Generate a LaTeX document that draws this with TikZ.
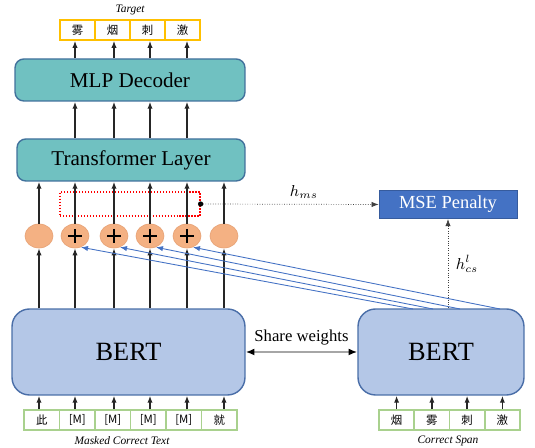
\documentclass[tikz,border=0pt]{standalone}
\usepackage{fontspec}
\setmainfont{Liberation Serif}
\newfontfamily\cjk{Noto Sans CJK SC}
\newfontfamily\sansf{Liberation Sans}
\usetikzlibrary{shapes.geometric,arrows.meta}
\definecolor{tealbox}{HTML}{70C1C1}
\definecolor{tealedge}{HTML}{41719C}
\definecolor{bertfill}{HTML}{B4C7E7}
\definecolor{bertedge}{HTML}{4A6EA8}
\definecolor{circfill}{HTML}{F4B183}
\definecolor{circedge}{HTML}{E8A478}
\definecolor{msefill}{HTML}{4472C4}
\definecolor{tgtedge}{HTML}{FFC000}
\definecolor{inedge}{HTML}{A9D18E}
\begin{document}
\begin{tikzpicture}[x=0.02cm, y=-0.02cm, >={Latex[length=4pt,width=3pt]},
    layer/.style={draw=tealedge, fill=tealbox, rounded corners=5pt, line width=0.8pt,
        minimum height=0.84cm, font=\fontsize{12}{12}\selectfont},
    bert/.style={draw=bertedge, fill=bertfill, rounded corners=0.35cm, line width=0.8pt,
        minimum height=1.72cm, font=\fontsize{15}{15}\selectfont},
    add/.style={ellipse, draw=circedge, fill=circfill, minimum width=0.56cm,
        minimum height=0.48cm, inner sep=0pt},
    tok/.style={draw, line width=0.9pt, minimum height=0.4cm, inner sep=0pt},
    caption/.style={font=\itshape\fontsize{6.5}{6.5}\selectfont},
    flow/.style={->, line width=0.75pt, black!85}]
    \useasboundingbox (0,0) rectangle (535,448);
    % decoder side
    \node[layer, minimum width=4.6cm] (mlp) at (130,80) {MLP Decoder};
    \node[layer, minimum width=4.56cm] (tfm) at (131,160) {Transformer Layer};
    \node[caption] (tgtlbl) at (130,10) {Target};
    \foreach \i/\x/\c in {1/77.5/雾,2/112.5/烟,3/147.5/刺,4/182.5/激}
        \node[tok, draw=tgtedge, minimum width=0.7cm, font=\cjk\fontsize{6.5}{6.5}\selectfont]
            (t\i) at (\x,30) {\c};
    % add nodes
    \foreach \i/\x in {1/39,2/75,3/114,4/150,5/187,6/224}
        \node[add] (c\i) at (\x,236) {};
    \foreach \i in {2,...,5}
        \draw[line width=0.8pt] (c\i.center) +(-7,0) -- +(7,0)
            (c\i.center) +(0,-7) -- +(0,7);
    \node[draw=red, densely dotted, line width=0.7pt, minimum width=2.8cm,
        minimum height=0.48cm] (rb) at (130,204) {};
    \node[fill=msefill, draw=msefill!80!black, text=white, minimum width=2.76cm,
        minimum height=0.5cm, font=\fontsize{10.5}{10.5}\selectfont] (mse) at (448,204.5) {MSE Penalty};
    % encoders
    \node[bert, minimum width=4.66cm] (bl) at (128.5,352) {BERT};
    \node[bert, minimum width=3.32cm] (br) at (441,352) {BERT};
    \foreach \i/\x/\c in {1/41.75/此,2/77.25/{[M]},3/112.75/{[M]},4/148.25/{[M]},5/183.75/{[M]},6/219.25/就}
        \node[tok, draw=inedge, minimum width=0.71cm, font=\cjk\fontsize{6.5}{6.5}\selectfont]
            (m\i) at (\x,420) {\c};
    \foreach \i/\x/\c in {1/396.6/烟,2/431.9/雾,3/467.1/刺,4/502.4/激}
        \node[tok, draw=inedge, minimum width=0.705cm, font=\cjk\fontsize{6.5}{6.5}\selectfont]
            (s\i) at (\x,420) {\c};
    \node[caption] (mlbl) at (122,441) {Masked Correct Text};
    \node[caption] (slbl) at (448,441) {Correct Span};
    % vertical flow
    \foreach \i [evaluate=\i as \j using int(\i+1)] in {1,...,4} {
        \draw[flow] (mlp.north -| c\j) -- (t\i.south -| c\j);
        \draw[flow] (tfm.north -| c\j) -- (mlp.south -| c\j);
    }
    \foreach \i in {1,...,6} {
        \draw[flow] (c\i.north) -- (tfm.south -| c\i);
        \draw[flow] (bl.north -| c\i) -- (c\i.south);
        \draw[flow] (m\i.north -| c\i) -- (bl.south -| c\i);
    }
    \foreach \i in {1,...,4}
        \draw[flow] (s\i.north) -- (br.south -| s\i);
    % span links
    \foreach \i/\e in {2/413,3/433,4/460,5/500} {
        \coordinate (e\i) at (\e,309);
        \draw[->, draw=msefill, line width=0.5pt] (e\i) -- (c\i.-62);
    }
    \draw[{Latex[length=5pt,width=4pt,color=black]}-{Latex[length=5pt,width=4pt,color=black]},
        draw=black!35, line width=1.2pt] (bl.east) -- (br.west)
        node[midway, above, text=black, font=\fontsize{9.5}{9.5}\selectfont] {Share weights};
    % penalty inputs
    \fill (rb.east) circle (1.5pt);
    \draw[->, densely dotted, black!75] (rb.east) -- (mse.west)
        node[pos=0.58, above, text=black, font=\small] {$h_{ms}$};
    \draw[<-, densely dotted, black!75] (mse.south) -- (mse.south |- br.north)
        node[midway, right, xshift=1pt, text=black, font=\small] {$h^{l}_{cs}$};
\end{tikzpicture}
\end{document}
